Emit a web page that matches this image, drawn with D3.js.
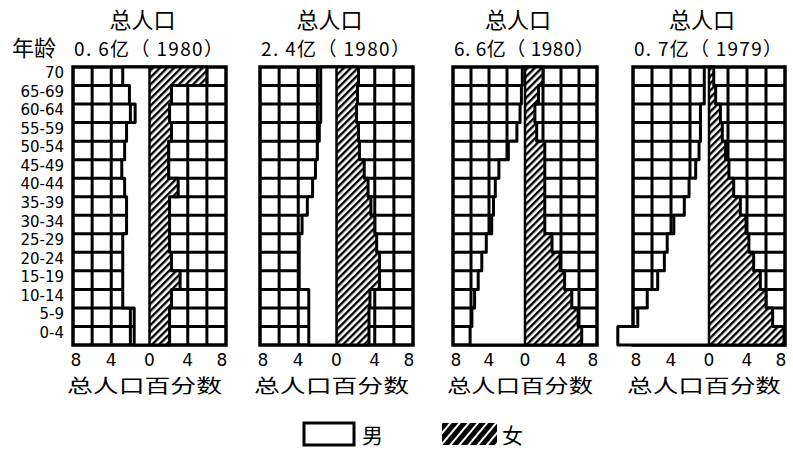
<html>
    <head>
        <meta charset="UTF-8">
        <title>人口金字塔</title>
        <script src="https://cdn.jsdelivr.net/npm/d3@7/dist/d3.min.js"></script>
        <style>
            body { margin: 0; background: #fff; }
            text { fill: #000; }
            .cjk { font-family: "Noto Sans CJK SC", sans-serif; }
            .num { font-family: "DejaVu Sans", sans-serif; }
        </style>
    </head>
    <body>
        <div id="chart"></div>

        <script>
            //-----------------------------------------
            // data (top row first: 70 = 70岁以上)
            var ages = ["70", "65-69", "60-64", "55-59", "50-54", "45-49", "40-44", "35-39",
                        "30-34", "25-29", "20-24", "15-19", "10-14", "5-9", "0-4"];
            var totals = ["0. 6亿（ 1980）", "2. 4亿（ 1980）", "6. 6亿（ 1980）", "0. 7亿（ 1979）"];
            var tickValues = [-8, -4, 0, 4, 8];

            var male1 = [2.8, 2.1, 1.5, 2.4, 2.6, 2.9, 2.6, 2.4, 2.4, 2.8, 2.8, 2.8, 2.8, 1.6, 1.6];
            var female1 = [6.0, 2.3, 2.1, 2.3, 2.0, 2.0, 3.0, 2.1, 2.1, 2.1, 2.3, 3.2, 2.3, 2.1, 2.1];
            var male2 = [1.65, 1.65, 1.65, 1.8, 2.0, 2.2, 2.5, 3.05, 3.6, 3.9, 3.9, 3.9, 2.9, 2.9, 2.9];
            var female2 = [2.3, 2.2, 2.1, 2.3, 2.4, 2.9, 3.3, 3.6, 4.0, 4.2, 4.5, 4.5, 3.5, 3.4, 3.4];
            var male3 = [0.3, 0.4, 0.55, 0.9, 1.85, 2.9, 3.3, 3.5, 3.7, 4.3, 4.8, 5.2, 5.6, 5.9, 6.1];
            var female3 = [2.0, 1.5, 1.1, 1.3, 2.2, 2.2, 2.2, 2.2, 2.2, 3.0, 3.9, 4.4, 5.2, 5.9, 6.3];
            var male4 = [0.5, 0.5, 0.9, 0.9, 1.05, 1.4, 2.1, 2.6, 3.7, 4.4, 4.7, 5.4, 6.5, 7.5, 9.6];
            var female4 = [0.5, 0.7, 1.2, 1.4, 1.75, 2.1, 2.6, 3.3, 3.9, 4.2, 4.7, 5.4, 6.0, 6.7, 7.9];

            var males = [male1, male2, male3, male4];
            var females = [female1, female2, female3, female4];

            //-----------------------------------------
            var svg = d3.select("#chart").append("svg")
                    .attr("width", 793)
                    .attr("height", 454);

            var defs = svg.append("defs");
            var hatch = defs.append("pattern")
                    .attr("id", "hatch")
                    .attr("patternUnits", "userSpaceOnUse")
                    .attr("width", 5).attr("height", 5)
                    .attr("patternTransform", "rotate(45)");
            hatch.append("rect").attr("width", 5).attr("height", 5).attr("fill", "#fff");
            hatch.append("rect").attr("width", 2.4).attr("height", 5).attr("fill", "#000");

            var hatchInv = defs.append("pattern")
                    .attr("id", "hatchInv")
                    .attr("patternUnits", "userSpaceOnUse")
                    .attr("width", 7).attr("height", 7)
                    .attr("patternTransform", "rotate(40)");
            hatchInv.append("rect").attr("width", 7).attr("height", 7).attr("fill", "#000");
            hatchInv.append("rect").attr("width", 2).attr("height", 7).attr("fill", "#fff");

            // panel placement
            var panels = [
                {cx: 149.5, w: 153},
                {cx: 336.5, w: 153},
                {cx: 525, w: 144},
                {cx: 709, w: 152}
            ];
            var plotTop = 67, plotBottom = 345;

            var y = d3.scaleBand().domain(ages).range([plotTop, plotBottom]).padding(0);

            // age labels
            svg.append("text").attr("class", "cjk")
                    .attr("x", 12).attr("y", 56)
                    .attr("font-size", 22)
                    .text("年龄");

            svg.append("g").selectAll("text")
                    .data(ages).enter()
                    .append("text")
                    .attr("class", "num")
                    .attr("x", 64)
                    .attr("y", function (d) { return y(d) + y.bandwidth() / 2 + 2; })
                    .attr("text-anchor", "end")
                    .attr("font-size", 15)
                    .text(function (d) { return d; });

            //-----------------------------------------
            function drawPanel(p, i) {
                var x = d3.scaleLinear().domain([-8, 8]).range([p.cx - p.w / 2, p.cx + p.w / 2]);
                var g = svg.append("g");
                var male = males[i], female = females[i];

                // titles
                g.append("text").attr("class", "cjk")
                        .attr("x", p.cx - 7).attr("y", 28)
                        .attr("text-anchor", "middle")
                        .attr("font-size", 22)
                        .text("总人口");
                g.append("text").attr("class", "cjk")
                        .attr("x", p.cx - p.w / 2 + 1).attr("y", 56)
                        .attr("font-size", 19)
                        .attr("textLength", p.w - 4)
                        .attr("lengthAdjust", "spacing")
                        .text(totals[i]);

                // grid
                g.append("g").selectAll("line")
                        .data(d3.range(-6, 8, 2)).enter()
                        .append("line")
                        .attr("x1", function (d) { return x(d); })
                        .attr("x2", function (d) { return x(d); })
                        .attr("y1", plotTop).attr("y2", plotBottom)
                        .attr("stroke", "#000").attr("stroke-width", 3);
                g.append("g").selectAll("line")
                        .data(ages.slice(1)).enter()
                        .append("line")
                        .attr("x1", x(-8)).attr("x2", x(8))
                        .attr("y1", function (d) { return y(d); })
                        .attr("y2", function (d) { return y(d); })
                        .attr("stroke", "#000").attr("stroke-width", 3);
                g.append("rect")
                        .attr("x", x(-8)).attr("y", plotTop)
                        .attr("width", x(8) - x(-8)).attr("height", plotBottom - plotTop)
                        .attr("fill", "none")
                        .attr("stroke", "#000").attr("stroke-width", 3.5);

                // bars
                g.append("g").selectAll("rect")
                        .data(ages).enter()
                        .append("rect")
                        .attr("x", function (d, j) { return x(-male[j]); })
                        .attr("y", function (d) { return y(d) - 0.5; })
                        .attr("width", function (d, j) { return x(0) - x(-male[j]); })
                        .attr("height", y.bandwidth() + 1)
                        .attr("fill", "#fff");
                g.append("g").selectAll("rect")
                        .data(ages).enter()
                        .append("rect")
                        .attr("x", x(0))
                        .attr("y", function (d) { return y(d) - 0.5; })
                        .attr("width", function (d, j) { return x(female[j]) - x(0); })
                        .attr("height", y.bandwidth() + 1)
                        .attr("fill", "url(#hatch)");

                // outlines of the bars (step edges)
                function edge(vals, sign) {
                    var pts = [[x(0), plotTop]];
                    ages.forEach(function (a, j) {
                        pts.push([x(sign * vals[j]), y(a)]);
                        pts.push([x(sign * vals[j]), y(a) + y.bandwidth()]);
                    });
                    pts.push([x(0), plotBottom]);
                    return pts;
                }
                var line = d3.line();
                g.append("path")
                        .attr("d", line(edge(male, -1)))
                        .attr("fill", "none")
                        .attr("stroke", "#000").attr("stroke-width", 3)
                        .attr("stroke-linejoin", "round");
                g.append("path")
                        .attr("d", line(edge(female, 1)))
                        .attr("fill", "none")
                        .attr("stroke", "#000").attr("stroke-width", 3)
                        .attr("stroke-linejoin", "round");
                g.append("line")
                        .attr("x1", x(0)).attr("x2", x(0))
                        .attr("y1", plotTop).attr("y2", plotBottom)
                        .attr("stroke", "#000").attr("stroke-width", 2.5);

                // axis
                g.append("g").selectAll("text")
                        .data(tickValues).enter()
                        .append("text")
                        .attr("class", "num")
                        .attr("x", function (d) { return x(d) + (d === -8 ? 3 : d === 8 ? -4 : 0); })
                        .attr("y", 366)
                        .attr("text-anchor", "middle")
                        .attr("font-size", 17)
                        .text(function (d) { return Math.abs(d); });
                g.append("text").attr("class", "cjk")
                        .attr("x", p.cx - p.w / 2 - 6).attr("y", 393)
                        .attr("font-size", 19)
                        .attr("textLength", p.w + 2)
                        .attr("lengthAdjust", "spacingAndGlyphs")
                        .text("总人口百分数");
            }

            panels.forEach(drawPanel);

            //-----------------------------------------
            // legend
            var legend = svg.append("g");
            legend.append("rect")
                    .attr("x", 304).attr("y", 423)
                    .attr("width", 50).attr("height", 22)
                    .attr("fill", "#fff")
                    .attr("stroke", "#000").attr("stroke-width", 3);
            legend.append("text").attr("class", "cjk")
                    .attr("x", 362).attr("y", 443)
                    .attr("font-size", 21)
                    .text("男");
            legend.append("rect")
                    .attr("x", 442).attr("y", 423)
                    .attr("width", 55).attr("height", 22)
                    .attr("fill", "url(#hatchInv)");
            legend.append("text").attr("class", "cjk")
                    .attr("x", 502).attr("y", 443)
                    .attr("font-size", 21)
                    .text("女");
        </script>
    </body>
</html>
